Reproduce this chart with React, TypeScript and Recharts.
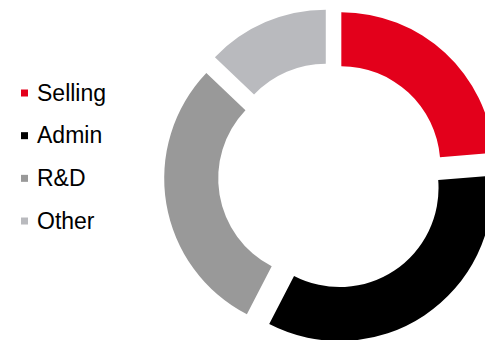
import React from 'react';
import { PieChart, Pie, Cell, Sector, Legend } from 'recharts';

const categories = ['Selling', 'Admin', 'R&D', 'Other'];
const values = [23.7, 33.9, 29.5, 12.9];
const colors = ['#E3001B', '#000000', '#999999', '#B9BABE'];

const data = categories.map((name, i) => ({ name, value: values[i] }));

const EXPLODE = 14.5;
const RAD = Math.PI / 180;

const ExplodedSector = (props: any) => {
  const { cx, cy, midAngle } = props;
  const dx = EXPLODE * Math.cos(-midAngle * RAD);
  const dy = EXPLODE * Math.sin(-midAngle * RAD);
  return <Sector {...props} cx={cx + dx} cy={cy + dy} stroke="none" />;
};

const LegendContent = () => (
  <svg width={160} height={340} style={{ display: 'block' }}>
    {categories.map((name, i) => {
      const yc = 93 + i * 42.67;
      return (
        <g key={name}>
          <rect x={21} y={yc - 3.5} width={7} height={7} fill={colors[i]} />
          <text
            x={37}
            y={yc + 7.5}
            fontSize={23}
            fontFamily="'Liberation Sans', Arial, sans-serif"
            fill="#000"
          >
            {name}
          </text>
        </g>
      );
    })}
  </svg>
);

export default function App() {
  return (
    <div style={{ position: 'absolute', left: 0, top: 0, width: 485, height: 340, background: '#fff' }}>
      <PieChart width={485} height={340} margin={{ top: 0, right: 0, bottom: 0, left: 0 }}>
        <Pie
          data={data}
          dataKey="value"
          nameKey="name"
          cx={331.5}
          cy={176}
          innerRadius={99}
          outerRadius={153}
          startAngle={90}
          endAngle={-270}
          stroke="none"
          isAnimationActive={false}
          shape={ExplodedSector}
        >
          {data.map((d, i) => (
            <Cell key={d.name} fill={colors[i]} />
          ))}
        </Pie>
        <Legend
          layout="vertical"
          align="center"
          verticalAlign="middle"
          wrapperStyle={{ left: 0, top: 0, width: 160, height: 340 }}
          content={<LegendContent />}
        />
      </PieChart>
    </div>
  );
}
